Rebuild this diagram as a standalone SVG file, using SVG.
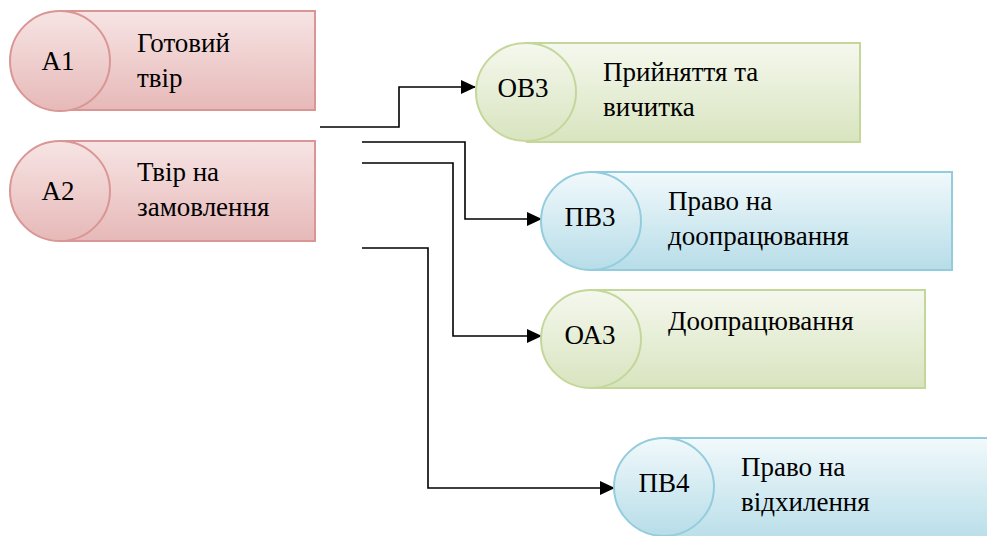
<svg xmlns="http://www.w3.org/2000/svg" width="987" height="536" viewBox="0 0 987 536">
<defs>
<linearGradient id="gr" x1="0" y1="0" x2="0" y2="1"><stop offset="0" stop-color="#f7e4e4"/><stop offset="1" stop-color="#e6b9b8"/></linearGradient>
<linearGradient id="gg" x1="0" y1="0" x2="0" y2="1"><stop offset="0" stop-color="#f5f8ee"/><stop offset="1" stop-color="#d8e4bf"/></linearGradient>
<linearGradient id="gb" x1="0" y1="0" x2="0" y2="1"><stop offset="0" stop-color="#f1f9fb"/><stop offset="1" stop-color="#b7dde8"/></linearGradient>
<marker id="arr" markerWidth="15" markerHeight="14" refX="14" refY="7" orient="auto" markerUnits="userSpaceOnUse"><path d="M0,0 L15,7 L0,14 Z" fill="#000"/></marker>
<style>
.red{fill:url(#gr);stroke:#d99694;stroke-width:2}
.grn{fill:url(#gg);stroke:#c4d79b;stroke-width:2}
.blu{fill:url(#gb);stroke:#93cddd;stroke-width:2}
.c{text-anchor:middle}
.t{font-family:'Liberation Serif','DejaVu Serif',serif;font-size:27px;fill:#000}
.conn path{fill:none;stroke:#000;stroke-width:1.6;marker-end:url(#arr)}
</style>
</defs>
<g class="conn">
<path d="M320,127 H399 V87 H475"/>
<path d="M362,142 H465 V219 H541"/>
<path d="M362,163 H453 V336 H541"/>
<path d="M362,248 H428 V488 H614"/>
</g>
<g class="t">
<g id="A1">
<rect class="red" x="60" y="11" width="255" height="99"/>
<ellipse class="red" cx="60" cy="61" rx="50" ry="50"/>
<text class="c" x="58" y="70">А1</text>
<text x="137" y="52">Готовий</text>
<text x="137" y="87">твір</text>
</g>
<g id="A2">
<rect class="red" x="60" y="141" width="255" height="100"/>
<ellipse class="red" cx="60" cy="191" rx="50" ry="50"/>
<text class="c" x="58" y="200">А2</text>
<text x="137" y="181">Твір на</text>
<text x="137" y="216">замовлення</text>
</g>
<g id="OB3">
<rect class="grn" x="527" y="43" width="333" height="99"/>
<ellipse class="grn" cx="526" cy="92" rx="50" ry="49"/>
<text class="c" x="523" y="97">ОВ3</text>
<text x="603" y="81">Прийняття та</text>
<text x="603" y="116">вичитка</text>
</g>
<g id="PB3">
<rect class="blu" x="591" y="172" width="361" height="98"/>
<ellipse class="blu" cx="591" cy="221" rx="50" ry="49"/>
<text class="c" x="590" y="226">ПВ3</text>
<text x="668" y="210">Право на</text>
<text x="668" y="245">доопрацювання</text>
</g>
<g id="OA3">
<rect class="grn" x="591" y="290" width="334" height="98"/>
<ellipse class="grn" cx="591" cy="339" rx="50" ry="49"/>
<text class="c" x="590" y="344">ОА3</text>
<text x="668" y="330">Доопрацювання</text>
</g>
<g id="PB4">
<rect class="blu" x="665" y="438" width="330" height="106"/>
<ellipse class="blu" cx="664" cy="487" rx="50" ry="49"/>
<text class="c" x="664" y="492">ПВ4</text>
<text x="741" y="476">Право на</text>
<text x="741" y="511">відхилення</text>
</g>
</g>
</svg>
